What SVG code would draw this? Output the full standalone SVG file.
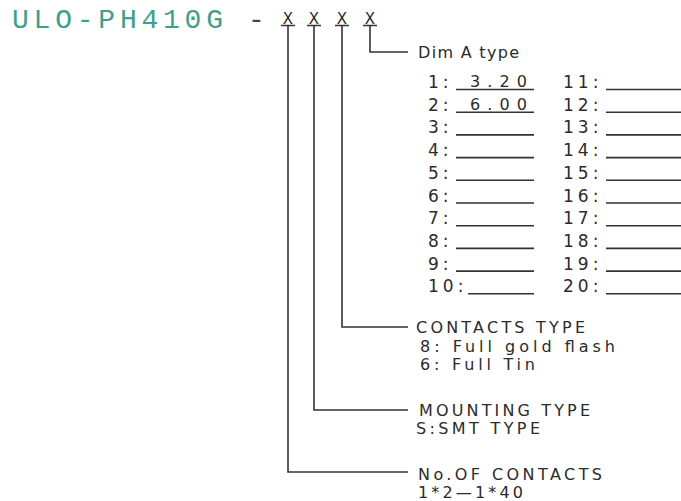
<svg xmlns="http://www.w3.org/2000/svg" width="681" height="501" viewBox="0 0 681 501">
<style>
.t{font-family:"DejaVu Sans","Liberation Sans",sans-serif;font-size:16px;fill:#2b2b2b}
.n{font-family:"DejaVu Sans","Liberation Sans",sans-serif;font-size:17px;fill:#2b2b2b;letter-spacing:4px}
.ln{stroke:#333;stroke-width:1.6;fill:none}
.ul{stroke:#333;stroke-width:1.6}
.x{font-family:"DejaVu Sans","Liberation Sans",sans-serif;font-size:15px;fill:#2b2b2b;text-anchor:middle}
</style>
<rect width="681" height="501" fill="#fff"/>
<g id="title">
<text x="12" y="28" font-family="'Liberation Mono','Courier New',monospace" font-size="28" fill="#3f9f8a" textLength="211" lengthAdjust="spacing">ULO-PH410G</text>
<text x="248" y="28" font-family="'Liberation Mono','Courier New',monospace" font-size="28" fill="#444">-</text>
</g>
<g id="codes">
<text class="x" x="288" y="24">X</text>
<text class="x" x="314" y="24">X</text>
<text class="x" x="342" y="24">X</text>
<text class="x" x="370" y="24">X</text>
<path class="ln" d="M281 25.5h14M307 25.5h14M335 25.5h14M363 25.5h14"/>
</g>
<g id="connectors">
<path class="ln" d="M370 25.5V52H408"/>
<path class="ln" d="M342 25.5V327H408"/>
<path class="ln" d="M314 25.5V410H408"/>
<path class="ln" d="M288 25.5V472H408"/>
</g>
<g id="dim-a-type">
<text class="t" x="418" y="58" font-size="17" textLength="101" lengthAdjust="spacing">Dim A type</text>
<g id="dim-list">
<text class="n" x="428" y="88">1:</text>
<text class="n" x="428" y="110.7">2:</text>
<text class="n" x="428" y="133.4">3:</text>
<text class="n" x="428" y="156.1">4:</text>
<text class="n" x="428" y="178.8">5:</text>
<text class="n" x="428" y="201.5">6:</text>
<text class="n" x="428" y="224.2">7:</text>
<text class="n" x="428" y="246.9">8:</text>
<text class="n" x="428" y="269.6">9:</text>
<text class="n" x="428" y="292.3">10:</text>
<text class="t" x="470" y="87" font-size="17" textLength="57" lengthAdjust="spacing">3.20</text>
<text class="t" x="470" y="109.7" font-size="17" textLength="57" lengthAdjust="spacing">6.00</text>
<path class="ul" d="M456 89.5H534M456 112.2H534M456 134.9H534M456 157.6H534M456 180.3H534M456 203H534M456 225.7H534M456 248.4H534M456 271.1H534M468 293.8H534"/>
<text class="n" x="563" y="88">11:</text>
<text class="n" x="563" y="110.7">12:</text>
<text class="n" x="563" y="133.4">13:</text>
<text class="n" x="563" y="156.1">14:</text>
<text class="n" x="563" y="178.8">15:</text>
<text class="n" x="563" y="201.5">16:</text>
<text class="n" x="563" y="224.2">17:</text>
<text class="n" x="563" y="246.9">18:</text>
<text class="n" x="563" y="269.6">19:</text>
<text class="n" x="563" y="292.3">20:</text>
<path class="ul" d="M606 89.5H681M606 112.2H681M606 134.9H681M606 157.6H681M606 180.3H681M606 203H681M606 225.7H681M606 248.4H681M606 271.1H681M606 293.8H681"/>
</g>
</g>
<g id="contacts-type">
<text class="t" x="416" y="333" textLength="169" lengthAdjust="spacing">CONTACTS TYPE</text>
<text class="t" x="420" y="352" textLength="195" lengthAdjust="spacing">8: Full gold flash</text>
<text class="t" x="420" y="370" textLength="115" lengthAdjust="spacing">6: Full Tin</text>
</g>
<g id="mounting-type">
<text class="t" x="419" y="416" textLength="171" lengthAdjust="spacing">MOUNTING TYPE</text>
<text class="t" x="416" y="434" textLength="124" lengthAdjust="spacing">S:SMT TYPE</text>
</g>
<g id="no-of-contacts">
<text class="t" x="418" y="480" textLength="184" lengthAdjust="spacing">No.OF CONTACTS</text>
<text class="t" x="418" y="498" textLength="105" lengthAdjust="spacing">1*2—1*40</text>
</g>
</svg>
